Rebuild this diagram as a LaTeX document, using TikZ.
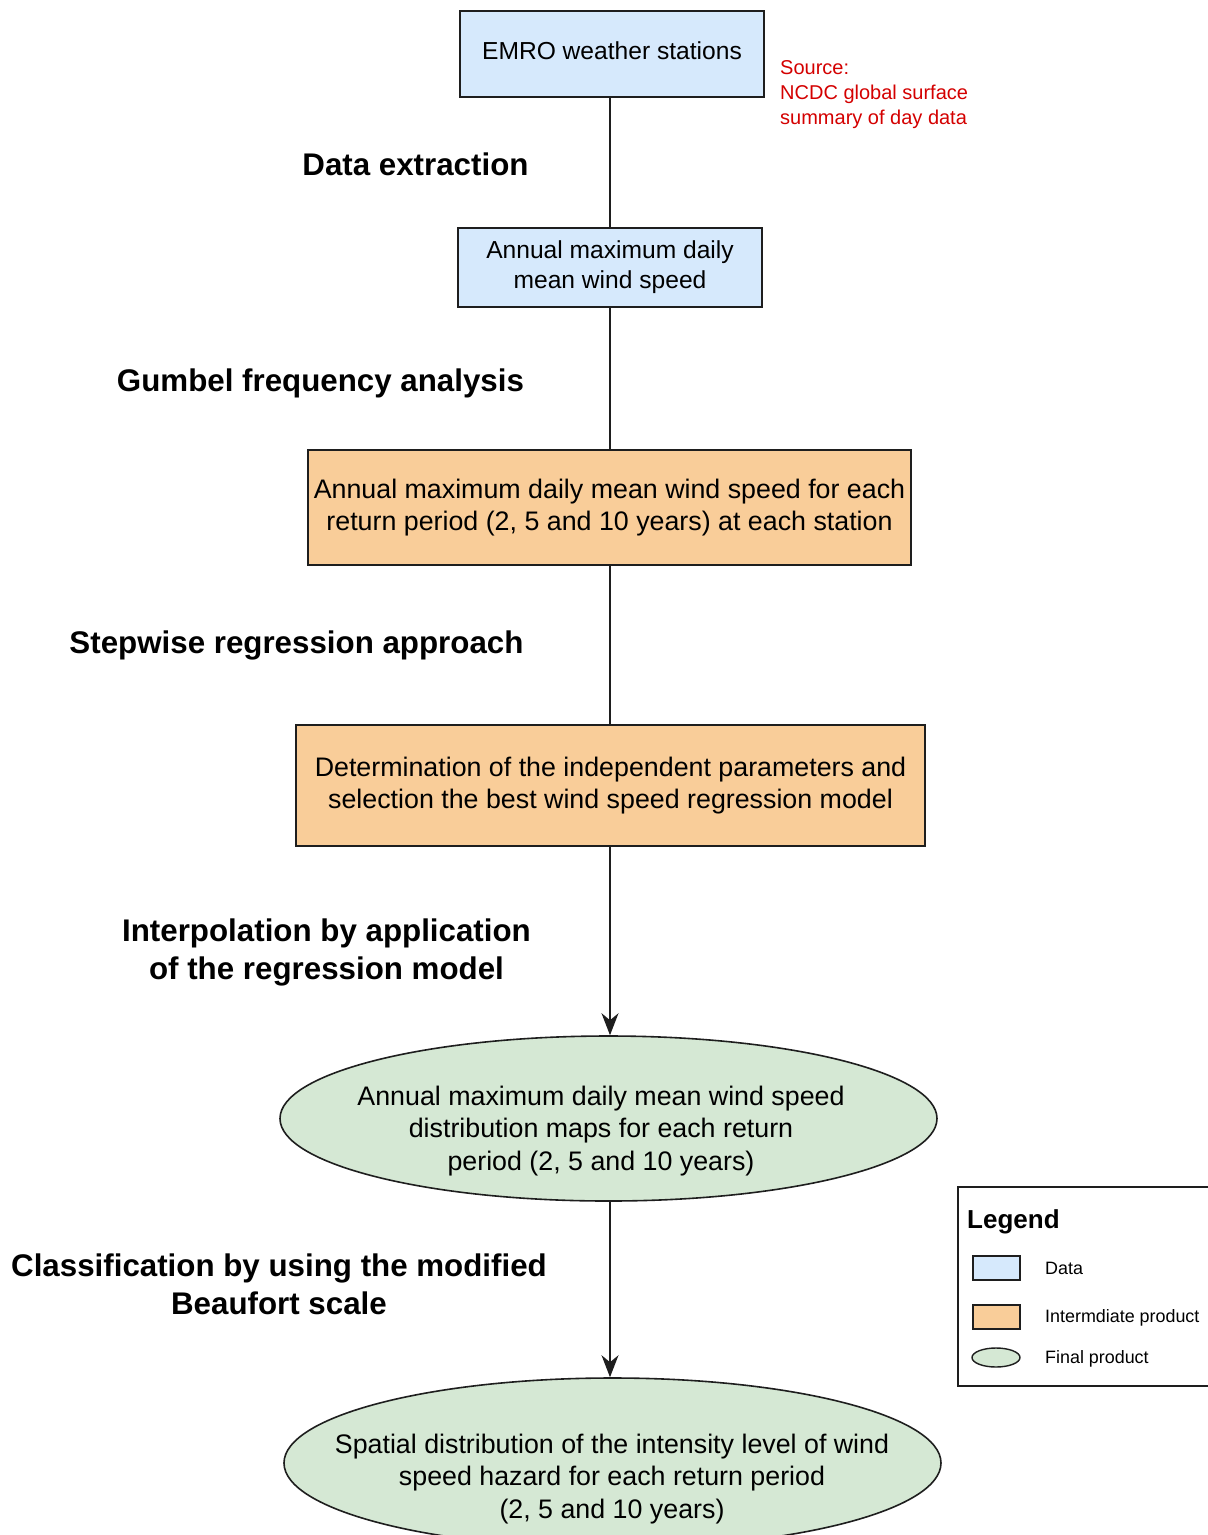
\documentclass[tikz,border=0pt]{standalone}
\usepackage{fontspec}
\setmainfont{Liberation Sans}
\usetikzlibrary{shapes.geometric,arrows.meta}
\definecolor{datablue}{HTML}{D6E9FC}
\definecolor{interorange}{HTML}{F9CD99}
\definecolor{finalgreen}{HTML}{D5E8D4}
\definecolor{srcred}{HTML}{D40000}
\definecolor{edgegray}{HTML}{1E1E1E}
\tikzset{
  databox/.style={draw=edgegray, line width=1.6pt, fill=datablue, rectangle, inner sep=0pt, align=center, font=\fontsize{24.6}{30}\selectfont},
  interbox/.style={draw=edgegray, line width=1.6pt, fill=interorange, rectangle, inner sep=0pt, align=center, font=\fontsize{26.8}{32}\selectfont},
  finalell/.style={draw=edgegray, line width=1.6pt, fill=finalgreen, ellipse, inner sep=0pt},
  elltext/.style={align=center, inner sep=0pt, font=\fontsize{26.8}{32.5}\selectfont},
  steplabel/.style={align=center, inner sep=0pt, font=\fontsize{31.3}{38}\selectfont\bfseries},
  srclabel/.style={align=left, inner sep=0pt, text=srcred, font=\fontsize{20}{25}\selectfont},
  conn/.style={draw=edgegray, line width=1.4pt},
  arrowconn/.style={conn, -{Stealth[length=22pt, width=17pt, inset=7pt]}},
  legtext/.style={anchor=west, inner sep=0pt, font=\fontsize{17.9}{22}\selectfont},
}
\begin{document}
\begin{tikzpicture}[x=1pt, y=-1pt]
\useasboundingbox[fill=white] (0,0) rectangle (1208,1535);
% main flow nodes
\node[databox, minimum width=304pt, minimum height=86pt, text depth=6pt] (b1) at (612,54) {EMRO weather stations};
\node[databox, minimum width=304pt, minimum height=79pt] (b2) at (610,267.5) {Annual maximum daily\\mean wind speed};
\node[interbox, minimum width=603pt, minimum height=115pt] (b3) at (609.5,507.5) {Annual maximum daily mean wind speed for each\\return period (2, 5 and 10 years) at each station};
\node[interbox, minimum width=629pt, minimum height=121pt] (b4) at (610.5,785.5) {Determination of the independent parameters and\\selection the best wind speed regression model};
\node[finalell, minimum width=657pt, minimum height=165pt] (e1) at (608.5,1118.5) {};
\node[elltext] (e1t) at (601,1131) {Annual maximum daily mean wind speed\\distribution maps for each return\\period (2, 5 and 10 years)};
\node[finalell, minimum width=657pt, minimum height=170pt] (e2) at (612.5,1463) {};
\node[elltext] (e2t) at (612,1479) {Spatial distribution of the intensity level of wind\\speed hazard for each return period\\(2, 5 and 10 years)};
% source
\node[srclabel, anchor=west] (src) at (780,95) {Source:\\NCDC global surface\\summary of day data};
% step labels
\node[steplabel] (l1) at (415.5,164) {Data extraction};
\node[steplabel] (l2) at (320.5,383) {Gumbel frequency analysis};
\node[steplabel] (l3) at (296.5,645) {Stepwise regression approach};
\node[steplabel] (l4) at (326.5,952) {Interpolation by application\\of the regression model};
\node[steplabel] (l5) at (279,1284) {Classification by using the modified\\Beaufort scale};
% connectors
\coordinate (c1) at (610,97);
\coordinate (c2) at (610,228);
\draw[conn] (c1) -- (c2);
\draw[conn] (610,307) -- (610,450);
\draw[conn] (610,565) -- (610,725);
\draw[arrowconn] (b4.south -| 610,0) -- (e1.north -| 610,0);
\draw[arrowconn] (e1.south -| 610,0) -- (e2.north -| 610,0);
% legend
\node[draw=edgegray, line width=1.6pt, fill=white, rectangle, anchor=north west, minimum width=270pt, minimum height=199pt, inner sep=0pt] (leg) at (957,1186) {};
\node[anchor=west, inner sep=0pt, font=\fontsize{26}{30}\selectfont\bfseries] (legt) at (967,1222) {Legend};
\node[draw=edgegray, line width=1.4pt, fill=datablue, minimum width=47pt, minimum height=24pt, inner sep=0pt] (lg1) at (996.5,1268) {};
\node[legtext] (lg1t) at (1045,1268) {Data};
\node[draw=edgegray, line width=1.4pt, fill=interorange, minimum width=47pt, minimum height=24pt, inner sep=0pt] (lg2) at (996.5,1317) {};
\node[legtext] (lg2t) at (1045,1318) {Intermdiate product};
\node[draw=edgegray, line width=1.4pt, fill=finalgreen, ellipse, minimum width=48pt, minimum height=19pt, inner sep=0pt] (lg3) at (996,1357.5) {};
\node[legtext] (lg3t) at (1045,1359) {Final product};
\end{tikzpicture}
\end{document}
